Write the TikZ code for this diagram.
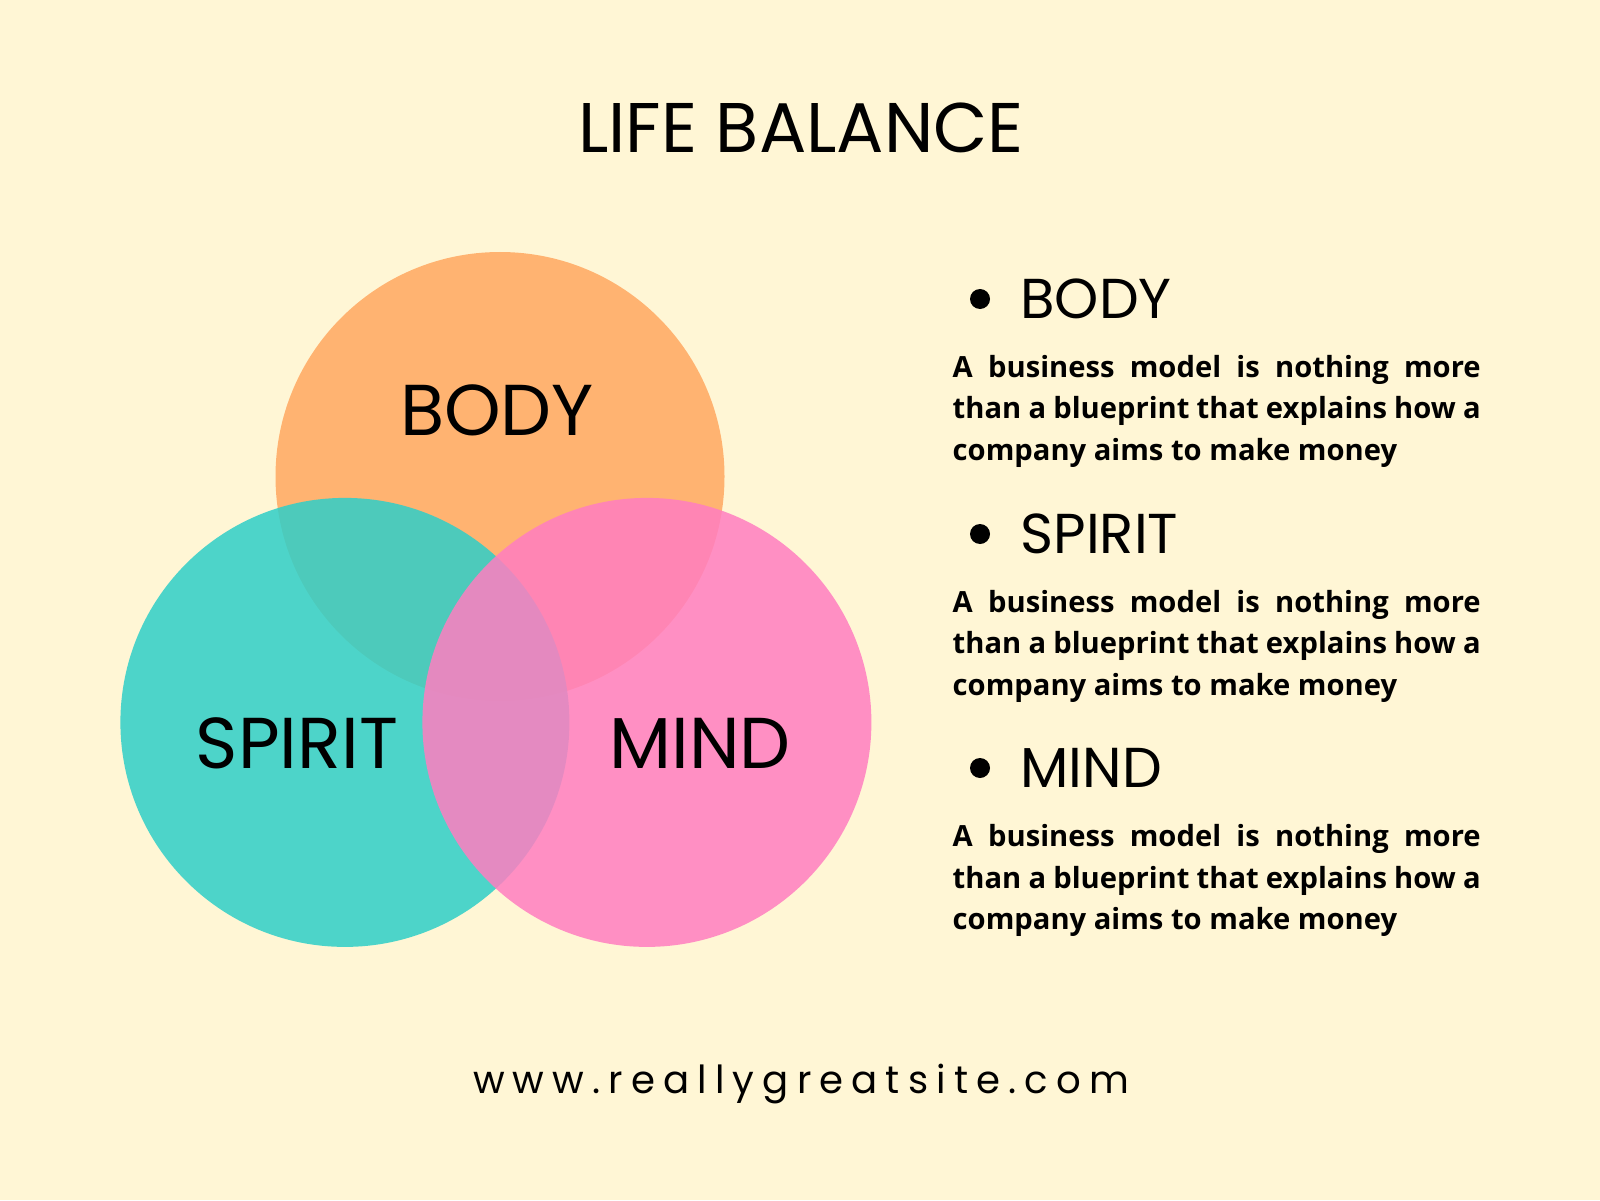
\documentclass[tikz,border=0pt]{standalone}
\usepackage{fontspec}
\setmainfont{Poppins}
\newfontfamily\parfont{Open Sans}
\newfontfamily\urlfont[LetterSpace=21]{Poppins}
\usetikzlibrary{positioning}
\definecolor{bgcol}{HTML}{FFF6D5}
\definecolor{bodycol}{HTML}{FFA860}
\definecolor{spiritcol}{HTML}{2FCFC8}
\definecolor{mindcol}{HTML}{FF7EC0}
\begin{document}
\begin{tikzpicture}[
    disc/.style={circle, minimum size=4.49cm, inner sep=0pt, fill opacity=0.85, text opacity=1},
    label/.style={font=\fontsize{20.5}{24}\selectfont},
    head/.style={anchor=west, font=\fontsize{16}{19}\selectfont},
    dot/.style={circle, fill=black, minimum size=0.2cm, inner sep=0pt},
    para/.style={anchor=north west, inner sep=0pt, text width=5.28cm, align=justify,
      font=\parfont\bfseries\fontsize{8.3}{11.7}\selectfont}
  ]
  % background
  \fill[bgcol] (0,0) rectangle (16,12);
  \useasboundingbox (0,0) rectangle (16,12);

  % title
  \node[font=\fontsize{20}{24}\selectfont] (title) at (8.01,10.72) {LIFE BALANCE};

  % venn circles
  \node[disc, fill=bodycol] (body) at (5.0,7.235) {};
  \node[disc, fill=spiritcol] (spirit) at (3.449,4.776) {};
  \node[disc, fill=mindcol] (mind) at (6.469,4.776) {};
  \node[label] at (4.97,7.9) {BODY};
  \node[label] at (2.97,4.57) {SPIRIT};
  \node[label] at (7.0,4.57) {MIND};

  % legend
  \foreach \y/\name [count=\i] in {9.01/BODY, 6.66/SPIRIT, 4.32/MIND} {
    \node[dot] (d\i) at (9.80,\y) {};
    \node[head] (h\i) at (10.08,\y) {\name};
    \node[para] (p\i) at (9.52,\y-0.56)
      {A business model is nothing more than a blueprint that explains how a company aims to make money};
  }

  % footer
  \node[font=\urlfont\fontsize{11}{14}\selectfont] (url) at (8.01,1.16) {www.reallygreatsite.com};
\end{tikzpicture}
\end{document}
